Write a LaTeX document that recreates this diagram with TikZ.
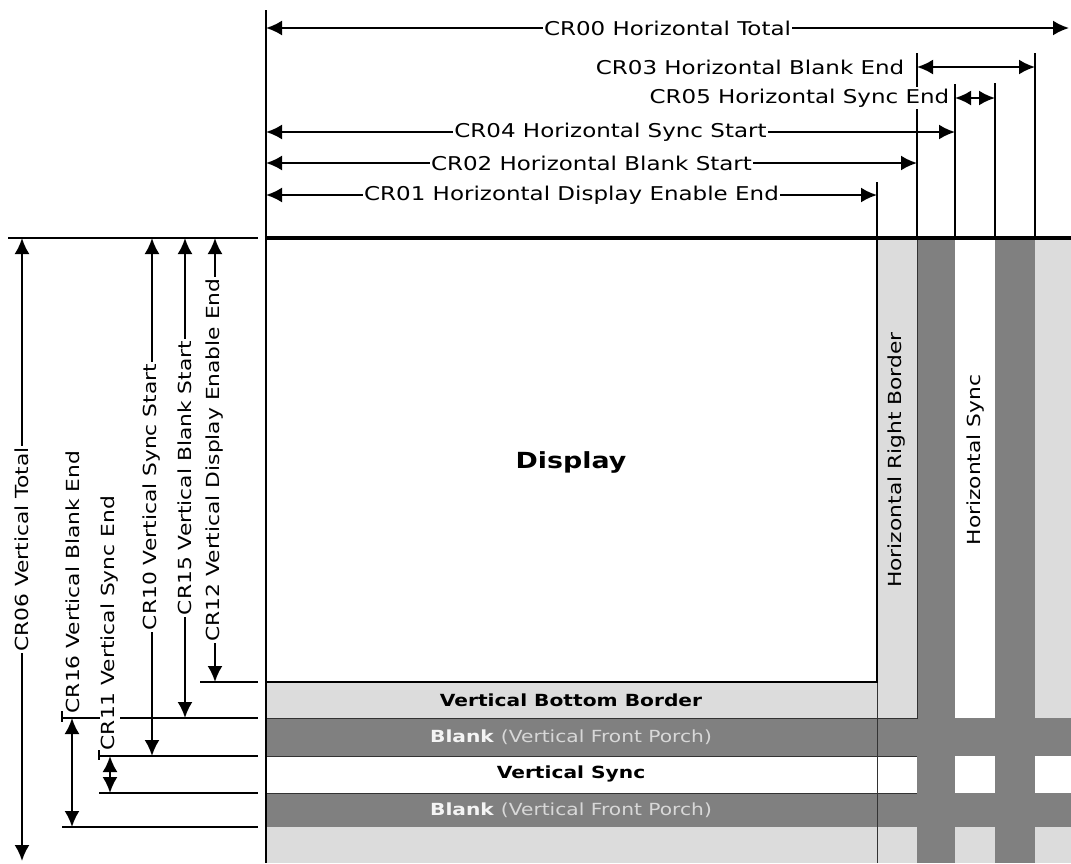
\documentclass[tikz,border=0pt]{standalone}
\usepackage{fontspec}
\setmainfont{DejaVu Sans}[FakeStretch=1.21]
\usetikzlibrary{arrows.meta}
\definecolor{paleband}{HTML}{DCDCDC}
\definecolor{darkband}{HTML}{808080}
\definecolor{blanktext}{HTML}{F4F4F4}
\definecolor{porchtext}{HTML}{D8D8D8}

\begin{document}
\begin{tikzpicture}[x=1pt, y=-1pt,
  dim/.style={line width=2.2pt, {Latex[length=16pt,width=15pt]}-{Latex[length=16pt,width=15pt]}},
  ext/.style={line width=2.1pt},
  hlbl/.style={fill=white, inner sep=1.5pt, font=\fontsize{19}{22}\selectfont},
  vlbl/.style={fill=white, inner sep=1.5pt, rotate=90, font=\fontsize{18}{21}\selectfont},
  band/.style={inner sep=0pt, font=\bfseries\fontsize{16.7}{20}\selectfont}]
\useasboundingbox (0, 0) rectangle (1071, 863);
\fill [paleband] (266, 238) rectangle (1071, 863);
\fill [white] (266, 238) rectangle (877, 682);
\fill [white] (955, 238) rectangle (995, 718);
\fill [white] (266, 756) rectangle (1071, 793);
\fill [darkband] (917, 238) rectangle (955, 863);
\fill [darkband] (995, 238) rectangle (1035, 863);
\fill [darkband] (266, 718) rectangle (1071, 756);
\fill [darkband] (266, 793) rectangle (1071, 827);
\draw [line width=1pt, black!80] (877, 682) to (877, 863);
\draw [line width=1pt, black!80] (917, 238) to (917, 718) to (266, 718);
\draw [line width=1pt, black!80] (266, 756) to (917, 756);
\draw [line width=1pt, black!80] (266, 793) to (917, 793);
\draw [line width=2.4pt] (266, 682) to (877, 682) to (877, 238);
\draw [line width=3.2pt] (264.75, 238) to (1071, 238);
\draw [line width=2.8pt] (266, 238) to (266, 863);
\node [band, font=\bfseries\fontsize{22.2}{26}\selectfont] (disp) at (571, 462) {Display};
\node [band] (vbb) at (571, 700) {Vertical Bottom Border};
\node [band, text=blanktext] (blank1) at (571, 737) {Blank \textcolor{porchtext}{\mdseries(Vertical Front Porch)}};
\node [band] (vsync) at (571, 774) {Vertical Sync};
\node [band, text=blanktext] (blank2) at (571, 810) {Blank \textcolor{porchtext}{\mdseries(Vertical Front Porch)}};
\node [band, rotate=90, font=\fontsize{18}{21}\selectfont] (hrb) at (897, 460) {Horizontal Right Border};
\node [band, rotate=90, font=\fontsize{18}{21}\selectfont] (hsync) at (976, 460) {Horizontal Sync};
\coordinate (t266) at (266, 10);
\coordinate (b266) at (266, 238);
\coordinate (t877) at (877, 182);
\coordinate (b877) at (877, 238);
\coordinate (t917) at (917, 53);
\coordinate (b917) at (917, 238);
\coordinate (t955) at (955, 84);
\coordinate (b955) at (955, 238);
\coordinate (t995) at (995, 83);
\coordinate (b995) at (995, 238);
\coordinate (t1035) at (1035, 53);
\coordinate (b1035) at (1035, 238);
\draw [ext] (t266) to (b266);
\draw [ext] (t877) to (b877);
\draw [ext] (t917) to (b917);
\draw [ext] (t955) to (b955);
\draw [ext] (t995) to (b995);
\draw [ext] (t1035) to (b1035);
\coordinate (l238) at (8, 238);
\coordinate (r238) at (258, 238);
\coordinate (l682) at (200, 682);
\coordinate (r682) at (258, 682);
\coordinate (l718) at (62, 718);
\coordinate (r718) at (258, 718);
\coordinate (l756) at (99, 756);
\coordinate (r756) at (258, 756);
\coordinate (l793) at (99, 793);
\coordinate (r793) at (258, 793);
\coordinate (l827) at (62, 827);
\coordinate (r827) at (258, 827);
\draw [ext] (l238) to (r238);
\draw [ext] (l682) to (r682);
\draw [ext] (l718) to (r718);
\draw [ext] (l756) to (r756);
\draw [ext] (l793) to (r793);
\draw [ext] (l827) to (r827);
\draw [line width=1.2pt] (62, 711) to (62, 722);
\draw [line width=1.2pt] (99, 750) to (99, 760);
\coordinate (cr00a) at (266, 28);
\coordinate (cr00b) at (1069, 28);
\coordinate (cr03a) at (917, 67);
\coordinate (cr03b) at (1035, 67);
\coordinate (cr05a) at (955, 98);
\coordinate (cr05b) at (995, 98);
\coordinate (cr04a) at (266, 132);
\coordinate (cr04b) at (955, 132);
\coordinate (cr02a) at (266, 163);
\coordinate (cr02b) at (917, 163);
\coordinate (cr01a) at (266, 195);
\coordinate (cr01b) at (877, 195);
\draw [dim] (cr00a) to node [hlbl] (cr00) {CR00 Horizontal Total} (cr00b);
\draw [dim] (cr03a) to (cr03b);
\node [hlbl, anchor=east] (cr03) at (906, 67) {CR03 Horizontal Blank End};
\draw [dim] (cr05a) to (cr05b);
\node [hlbl, anchor=east] (cr05) at (951, 98) {CR05 Horizontal Sync End};
\draw [dim] (cr04a) to node [hlbl] (cr04) {CR04 Horizontal Sync Start} (cr04b);
\draw [dim] (cr02a) to node [hlbl] (cr02) {CR02 Horizontal Blank Start} (cr02b);
\draw [dim] (cr01a) to node [hlbl] (cr01) {CR01 Horizontal Display Enable End} (cr01b);
\coordinate (cr06a) at (22, 861);
\coordinate (cr06b) at (22, 238);
\coordinate (cr10a) at (152, 756);
\coordinate (cr10b) at (152, 238);
\coordinate (cr15a) at (185, 718);
\coordinate (cr15b) at (185, 238);
\coordinate (cr12a) at (215, 682);
\coordinate (cr12b) at (215, 238);
\coordinate (cr16a) at (72, 827);
\coordinate (cr16b) at (72, 718);
\coordinate (cr11a) at (110, 793);
\coordinate (cr11b) at (110, 756);
\draw [dim] (cr06a) to node [vlbl] (cr06) {CR06 Vertical Total} (cr06b);
\draw [dim] (cr10a) to node [vlbl] (cr10) {CR10 Vertical Sync Start} (cr10b);
\draw [dim] (cr15a) to node [vlbl] (cr15) {CR15 Vertical Blank Start} (cr15b);
\draw [dim] (cr12a) to node [vlbl] (cr12) {CR12 Vertical Display Enable End} (cr12b);
\draw [dim] (cr16a) to (cr16b);
\node [vlbl, anchor=west] (cr16) at (73, 715) {CR16 Vertical Blank End};
\draw [dim] (cr11a) to (cr11b);
\node [vlbl, anchor=west] (cr11) at (110, 752) {CR11 Vertical Sync End};
\end{tikzpicture}
\end{document}
